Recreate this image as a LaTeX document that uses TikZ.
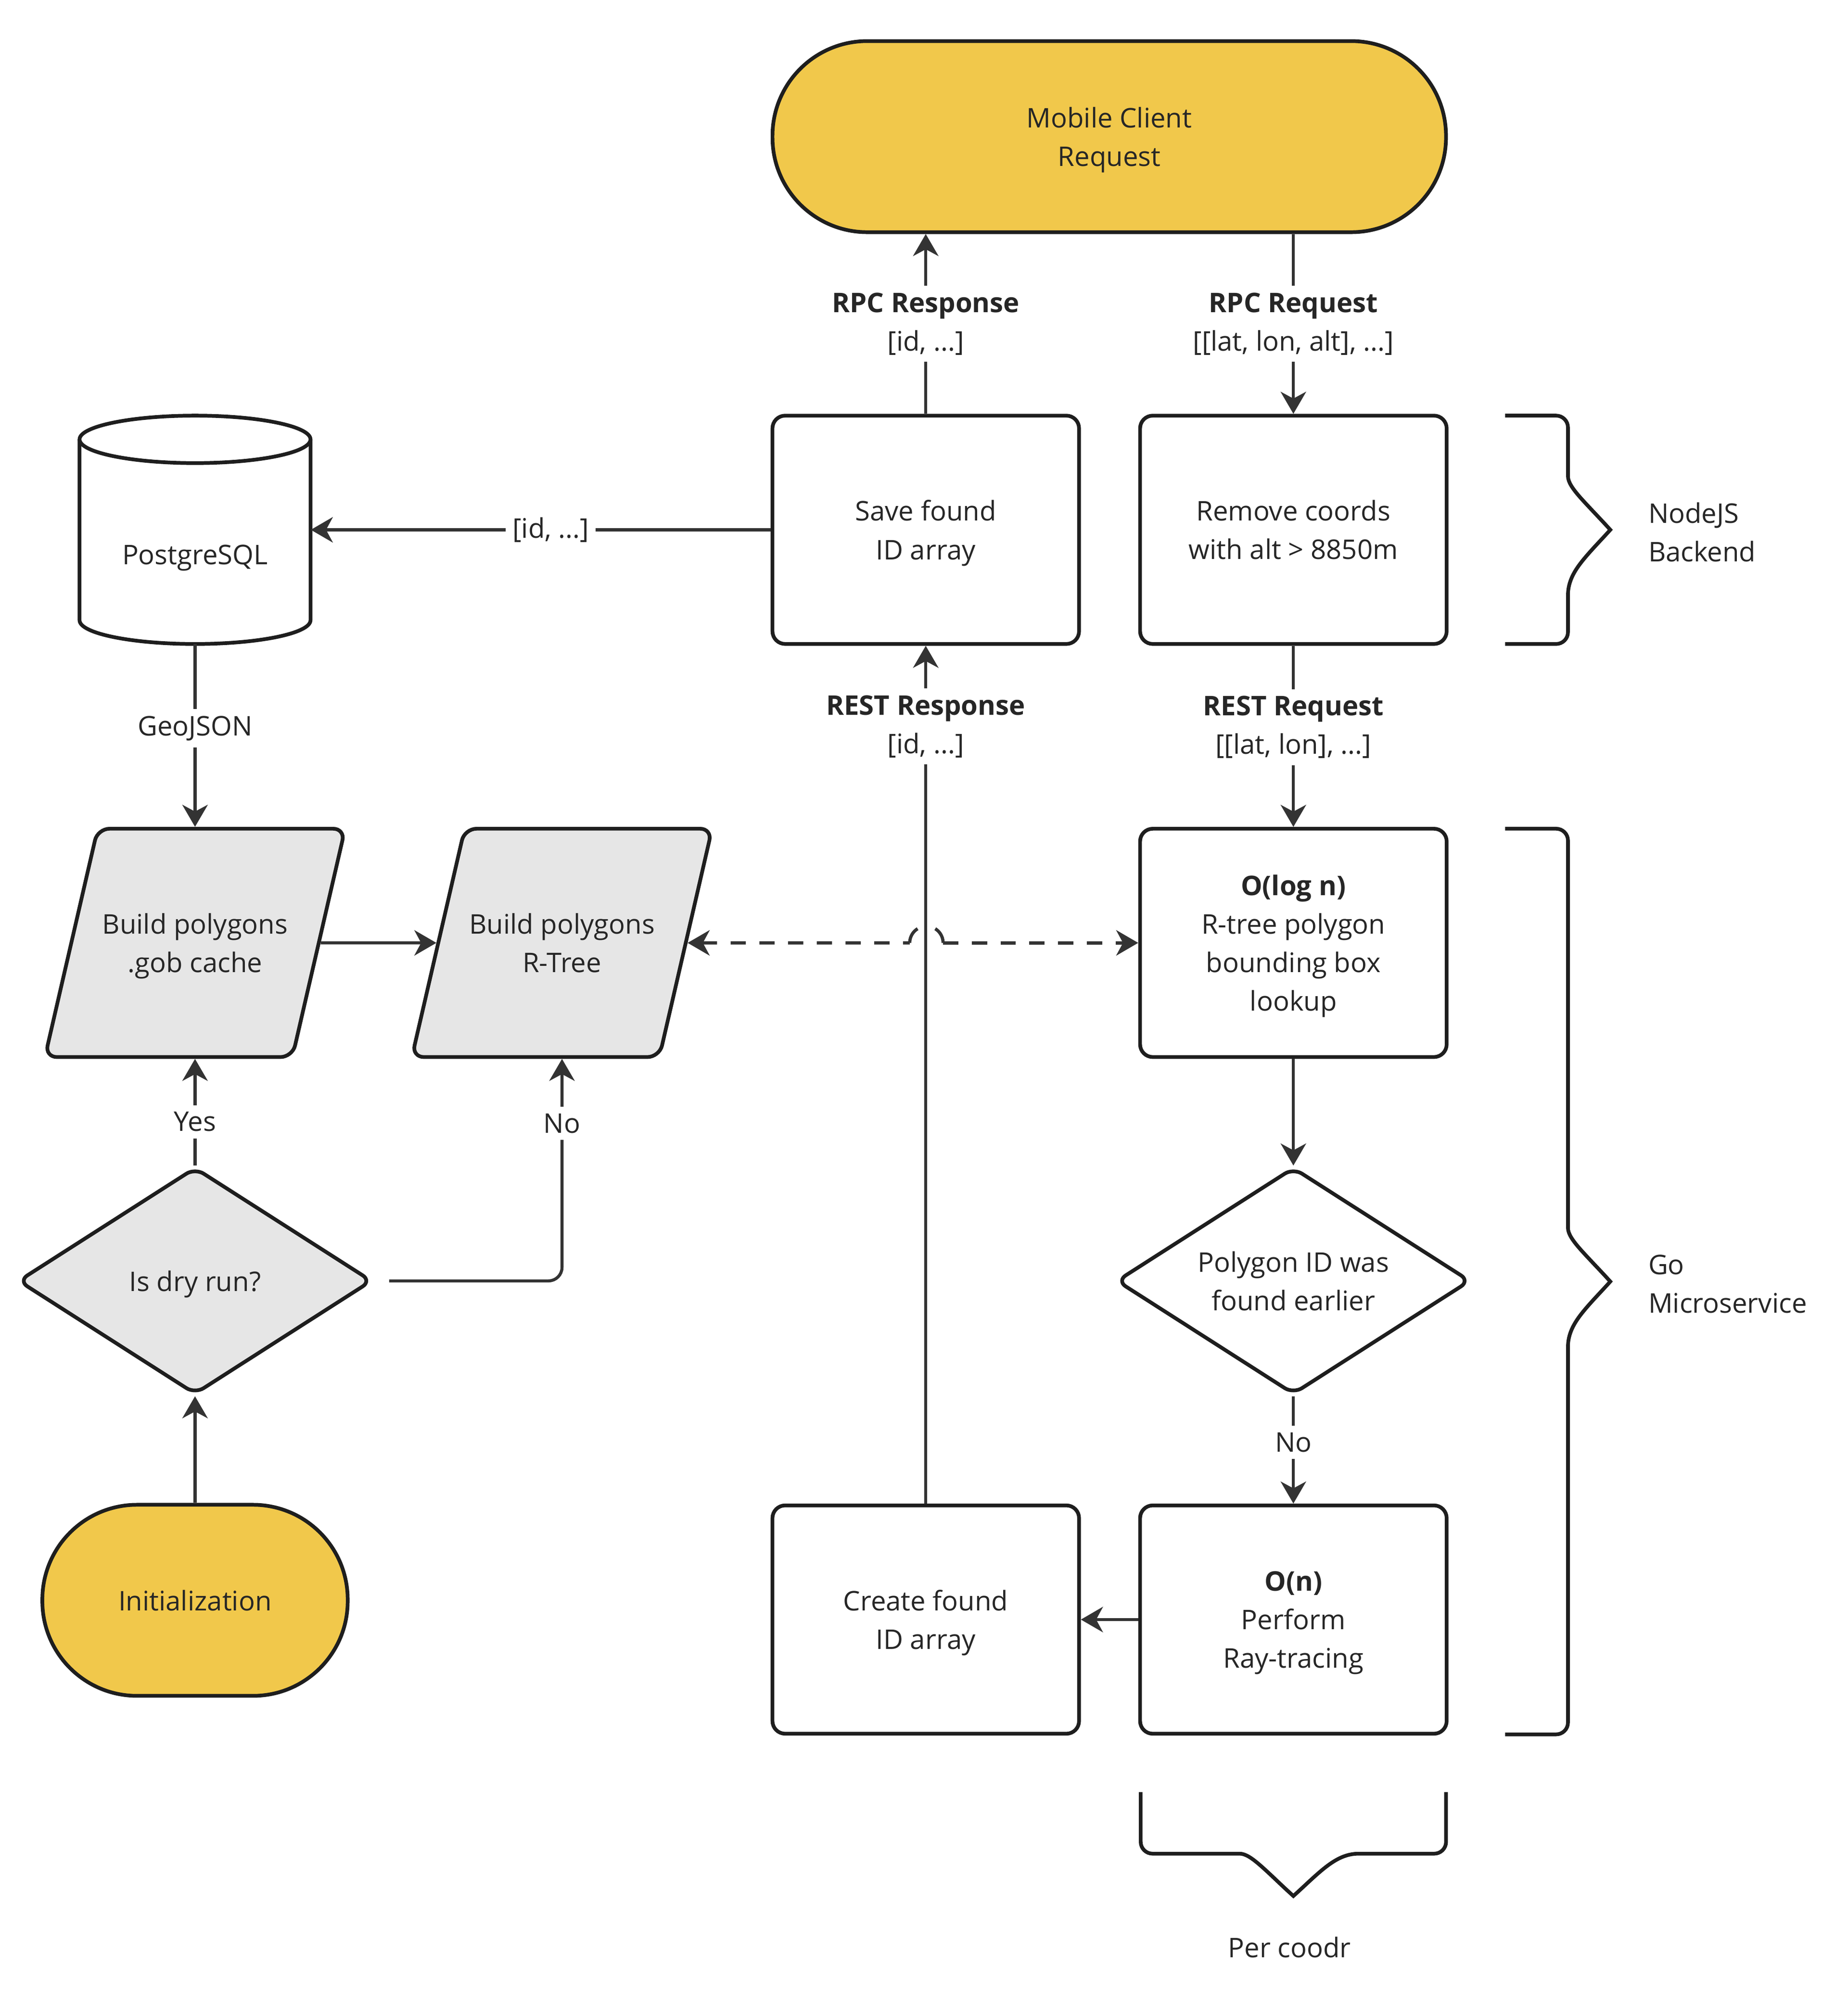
\documentclass[tikz,border=0pt]{standalone}
\usepackage{fontspec}
\setmainfont{Open Sans}
\usetikzlibrary{shapes.geometric,arrows.meta}
\definecolor{yel}{HTML}{F1C84B}
\definecolor{gry}{HTML}{E6E6E6}
\definecolor{bord}{HTML}{1E1E1E}
\definecolor{conn}{HTML}{333333}
\definecolor{txt}{HTML}{262626}
\begin{document}
\begin{tikzpicture}[x=0.026667cm, y=-0.026667cm,
  every node/.style={font=\fontsize{16pt}{22.8pt}\selectfont, text=txt},
  base/.style={draw=bord, line width=2.2pt, align=center, inner sep=0pt, text depth=0pt},
  proc/.style={base, rectangle, rounded corners=7.5pt, minimum width=6.373cm, minimum height=4.747cm, fill=white},
  term/.style={base, rectangle, fill=yel, minimum height=3.973cm, rounded corners=56pt},
  para/.style={draw=bord, line width=2.2pt, inner sep=0pt, trapezium, trapezium left angle=77, trapezium right angle=103, trapezium stretches body, text height=4.747cm, text depth=0pt, text width=0pt, minimum width=6.24cm, fill=gry, rounded corners=7pt},
  dec/.style={base, diamond, aspect=1.56, minimum width=7.36cm, minimum height=4.72cm, rounded corners=6pt},
  arr/.style={draw=conn, line width=1.8pt, -{Stealth[length=13pt,width=15pt,inset=4pt]}},
  dashline/.style={draw=conn, line width=1.9pt, dash pattern=on 9pt off 8pt},
  lbl/.style={fill=white, align=center, inner xsep=4pt, inner ysep=4pt},
  inner/.style={align=center, inner sep=0pt, text depth=0pt},
  bracestyle/.style={draw=bord, line width=2.2pt, rounded corners=7pt}
]
\useasboundingbox (0,0) rectangle (1440,1570);
\fill[white] (0,0) rectangle (1440,1570);

% nodes
\node[term, minimum width=14cm] (mobile) at (864.5,106.5) {Mobile Client\\Request};
\node[proc] (save) at (721.5,413) {Save found\\ID array};
\node[proc] (remove) at (1008,413) {Remove coords\\with alt > 8850m};

\node[minimum width=4.8cm, minimum height=4.747cm, inner sep=0pt] (pg) at (152,413) {};
\filldraw[draw=bord, line width=2.2pt, fill=white] (62,342.5) -- (62,483.5) arc[start angle=180, end angle=0, x radius=90, y radius=18.5] -- (242,342.5);
\filldraw[draw=bord, line width=2.2pt, fill=white] (152,342.5) ellipse[x radius=90, y radius=18.5];
\node (pgtext) at (152,435) {PostgreSQL};

\node[para] (gob) at (152,735) {};
\node[inner] (gobtext) at (gob.center) {Build polygons\\.gob cache};
\node[para] (rtree) at (438,735) {};
\node[inner] (rtreetext) at (rtree.center) {Build polygons\\R-Tree};
\node[proc] (olog) at (1008,735) {\textbf{O(log n)}\\R-tree polygon\\bounding box\\lookup};
\node[dec, fill=white] (found) at (1008,998.5) {Polygon ID was\\found earlier};
\node[proc] (on) at (1008,1262.5) {\textbf{O(n)}\\Perform\\Ray-tracing};
\node[proc] (create) at (721.5,1262.5) {Create found\\ID array};
\node[dec, fill=gry] (dry) at (152,998.5) {Is dry run?};
\node[term, minimum width=6.347cm] (init) at (152,1247.5) {Initialization};

% braces
\draw[bracestyle] (1173,324) -- (1222,324) -- (1222,362) [sharp corners] .. controls (1222,380) and (1236,392) .. (1255,413) .. controls (1236,434) and (1222,446) .. (1222,464) [rounded corners=7pt] -- (1222,502) -- (1173,502);
\node[anchor=west, align=left] (nodejs) at (1280,415) {NodeJS\\Backend};

\draw[bracestyle] (1173,646) -- (1222,646) -- (1222,948) [sharp corners] .. controls (1222,966) and (1236,978) .. (1255,999) .. controls (1236,1020) and (1222,1032) .. (1222,1050) [rounded corners=7pt] -- (1222,1352) -- (1173,1352);
\node[anchor=west, align=left] (gomicro) at (1280,1001) {Go\\Microservice};

\draw[bracestyle] (889,1397) -- (889,1445) -- (957,1445) [sharp corners] .. controls (975,1445) and (987,1459) .. (1008,1478) .. controls (1029,1459) and (1041,1445) .. (1059,1445) [rounded corners=7pt] -- (1127,1445) -- (1127,1397);
\node (percoodr) at (1005,1518) {Per coodr};

% connectors
\draw[arr] (save.north) -- node[lbl]{\textbf{RPC Response}\\{}[id, ...]} (save.north |- mobile.south);
\draw[arr] (remove.north |- mobile.south) -- node[lbl]{\textbf{RPC Request}\\{}[[lat, lon, alt], ...]} (remove.north);
\draw[arr] (save) -- node[lbl, pos=0.478]{[id, ...]} (pg);
\draw[arr] (pg) -- node[lbl, pos=0.46]{GeoJSON} (gob.north -| gob.center);
\draw[arr] (gob) -- (rtree);
\coordinate (hopL) at (709,735);
\coordinate (hopR) at (735,735);
\draw[dashline, {Stealth[length=13pt,width=15pt,inset=4pt]}-] (rtree) -- (hopL);
\draw[dashline, dash pattern=on 10pt off 11pt on 10pt] (hopL) arc[start angle=180, end angle=360, radius=13];
\draw[dashline, -{Stealth[length=13pt,width=15pt,inset=4pt]}] (hopR) -- (olog);
\draw[arr] (remove) -- node[lbl, pos=0.45]{\textbf{REST Request}\\{}[[lat, lon], ...]} (olog);
\draw[arr] (create) -- node[lbl, pos=0.906]{\textbf{REST Response}\\{}[id, ...]} (save);
\draw[arr] (olog) -- (found);
\draw[arr] (found) -- node[lbl, pos=0.43]{No} (on);
\draw[arr] (on) -- (create);
\draw[arr] (init) -- (dry);
\draw[arr] (dry) -- node[lbl, pos=0.41]{Yes} (gob.south -| gob.center);
\draw[arr, rounded corners=8pt, shorten <=9pt] (dry.east) -| node[lbl, pos=0.855]{No} (rtree.south -| rtree.center);
\end{tikzpicture}
\end{document}
